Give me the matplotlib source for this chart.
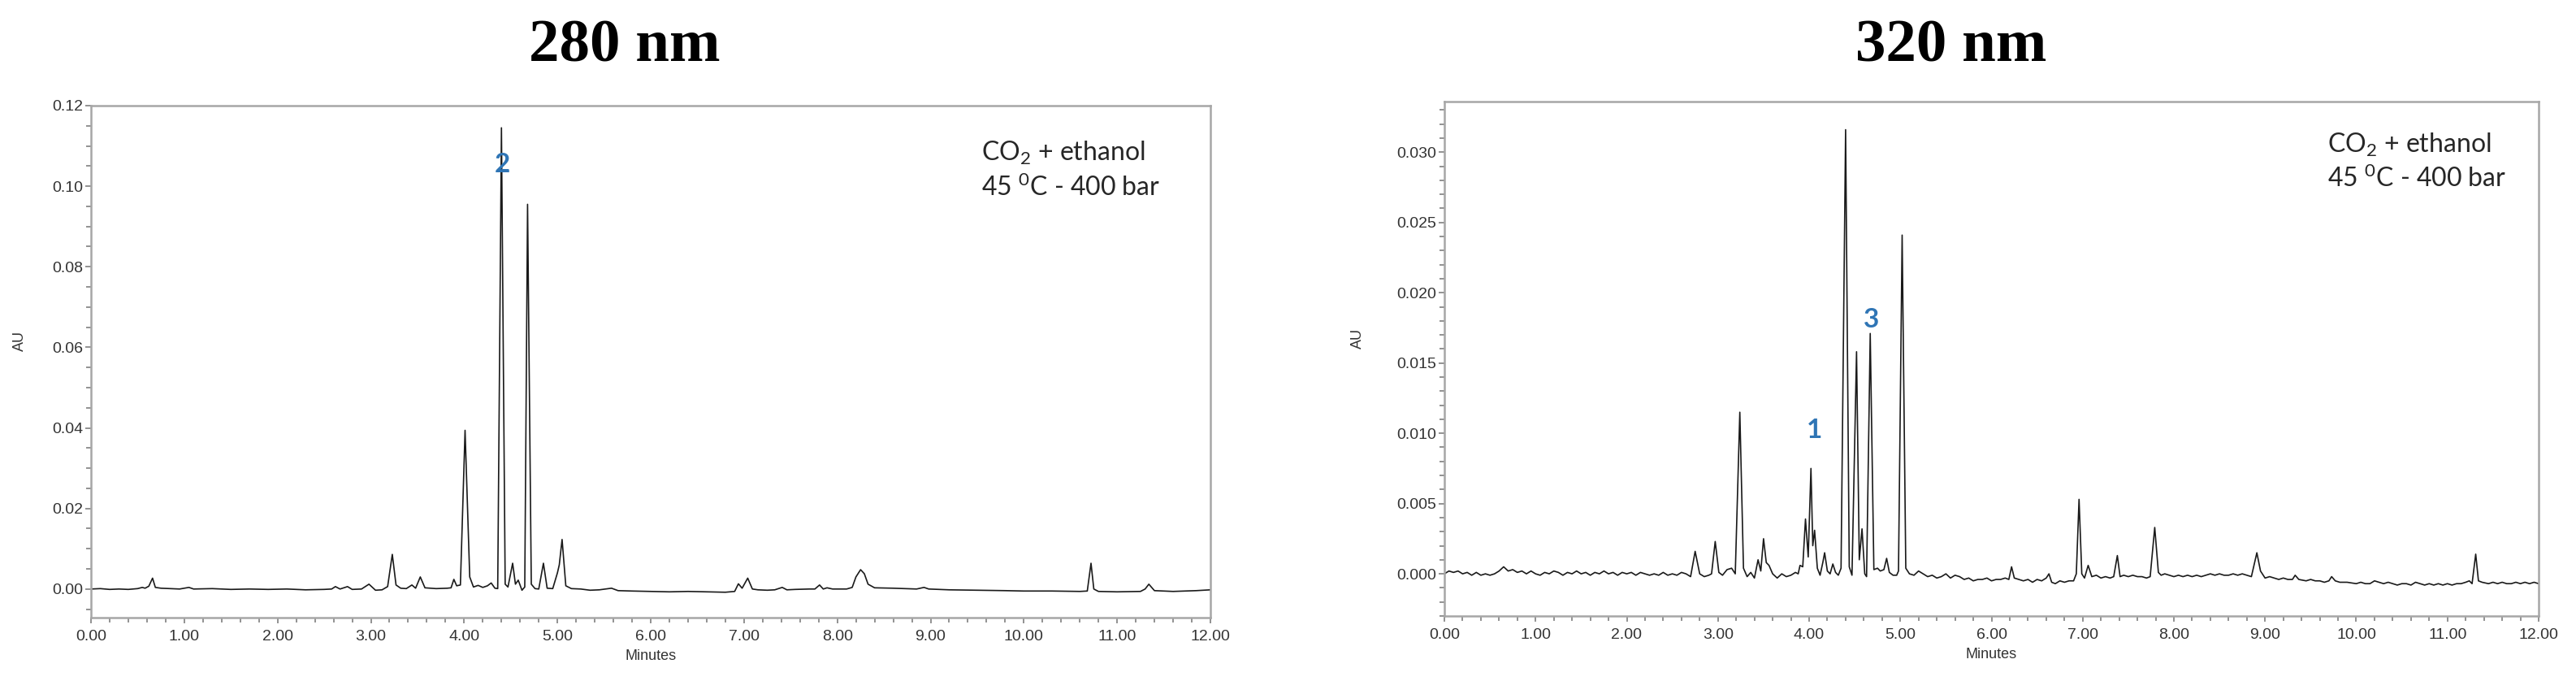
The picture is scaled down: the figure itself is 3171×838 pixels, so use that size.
import matplotlib
matplotlib.use("Agg")
import matplotlib.pyplot as plt
from matplotlib.ticker import MultipleLocator, FormatStrFormatter

# chromatogram (minutes, AU)
t280 = [0.00, 0.10, 0.20, 0.30, 0.40, 0.50, 0.55, 0.58, 0.62, 0.66, 0.69, 0.75, 0.85, 0.95,
        1.05, 1.10, 1.30, 1.50, 1.70, 1.90, 2.10, 2.30, 2.50, 2.58, 2.62, 2.67, 2.75, 2.80,
        2.90, 2.98, 3.05, 3.12, 3.18, 3.23, 3.27, 3.32, 3.38, 3.44, 3.48, 3.53, 3.58, 3.70,
        3.82, 3.86, 3.89, 3.92, 3.96, 4.01, 4.06, 4.10, 4.15, 4.20, 4.25, 4.29, 4.33, 4.36,
        4.40, 4.44, 4.47, 4.52, 4.55, 4.58, 4.62, 4.65, 4.68, 4.72, 4.76, 4.80, 4.85, 4.89,
        4.95, 5.00, 5.02, 5.05, 5.09, 5.15, 5.25, 5.35, 5.45, 5.58, 5.65, 5.80, 6.00, 6.20,
        6.40, 6.60, 6.80, 6.90, 6.94, 6.98, 7.04, 7.09, 7.15, 7.25, 7.33, 7.41, 7.46, 7.55,
        7.70, 7.76, 7.81, 7.85, 7.89, 7.95, 8.10, 8.16, 8.20, 8.25, 8.29, 8.33, 8.40, 8.60,
        8.85, 8.93, 8.98, 9.20, 9.50, 9.80, 10.00, 10.30, 10.60, 10.68, 10.72, 10.75, 10.80,
        11.00, 11.25, 11.30, 11.34, 11.40, 11.60, 11.85, 12.00]
au280 = [0.0000, 0.0001, -0.0001, 0.0000, -0.0001, 0.0001, 0.0004, 0.0002, 0.0007, 0.0027,
         0.0004, 0.0002, 0.0001, 0.0000, 0.0004, 0.0000, 0.0001, -0.0001, 0.0000, -0.0001,
         0.0000, -0.0002, -0.0001, 0.0000, 0.0006, 0.0000, 0.0006, -0.0001, 0.0000, 0.0012,
         -0.0003, -0.0002, 0.0006, 0.0086, 0.0010, 0.0002, 0.0001, 0.0010, 0.0002, 0.0030,
         0.0003, 0.0001, 0.0002, 0.0003, 0.0024, 0.0008, 0.0010, 0.0394, 0.0030, 0.0005,
         0.0009, 0.0004, 0.0008, 0.0015, 0.0002, 0.0001, 0.1145, 0.0012, 0.0005, 0.0064,
         0.0012, 0.0022, -0.0003, 0.0005, 0.0955, 0.0012, 0.0001, 0.0000, 0.0064, 0.0002,
         0.0001, 0.0040, 0.0060, 0.0123, 0.0008, 0.0001, 0.0000, -0.0003, -0.0002, 0.0002,
         -0.0004, -0.0005, -0.0006, -0.0007, -0.0006, -0.0007, -0.0008, -0.0006, 0.0013,
         0.0002, 0.0027, 0.0000, -0.0002, -0.0003, -0.0002, 0.0004, -0.0002, -0.0001, 0.0000,
         0.0000, 0.0010, 0.0000, 0.0003, 0.0000, 0.0000, 0.0004, 0.0030, 0.0048, 0.0038,
         0.0012, 0.0003, 0.0002, 0.0000, 0.0004, 0.0000, -0.0002, -0.0003, -0.0004, -0.0005,
         -0.0005, -0.0006, -0.0005, 0.0064, 0.0000, -0.0006, -0.0007, -0.0006, 0.0000, 0.0012,
         -0.0004, -0.0006, -0.0004, -0.0002]

# chromatogram (minutes, AU)
t320 = [0.00, 0.05, 0.10, 0.15, 0.20, 0.25, 0.30, 0.35, 0.40, 0.45, 0.50, 0.55, 0.60, 0.65,
        0.70, 0.75, 0.80, 0.85, 0.90, 0.95, 1.00, 1.05, 1.10, 1.15, 1.20, 1.25, 1.30, 1.35,
        1.40, 1.45, 1.50, 1.55, 1.60, 1.65, 1.70, 1.75, 1.80, 1.85, 1.90, 1.95, 2.00, 2.05,
        2.10, 2.15, 2.20, 2.25, 2.30, 2.35, 2.40, 2.45, 2.50, 2.55, 2.60, 2.65, 2.70, 2.75,
        2.80, 2.85, 2.90, 2.93, 2.97, 3.01, 3.05, 3.10, 3.15, 3.19, 3.24, 3.28, 3.32, 3.36,
        3.40, 3.44, 3.47, 3.50, 3.53, 3.56, 3.60, 3.65, 3.70, 3.75, 3.80, 3.85, 3.88, 3.90,
        3.93, 3.96, 3.99, 4.02, 4.04, 4.06, 4.09, 4.12, 4.15, 4.17, 4.20, 4.23, 4.26, 4.29,
        4.32, 4.35, 4.40, 4.44, 4.47, 4.52, 4.55, 4.58, 4.61, 4.63, 4.67, 4.71, 4.75, 4.78,
        4.82, 4.85, 4.88, 4.92, 4.96, 4.98, 5.02, 5.06, 5.10, 5.15, 5.20, 5.25, 5.30, 5.35,
        5.40, 5.45, 5.50, 5.55, 5.60, 5.65, 5.70, 5.75, 5.80, 5.85, 5.90, 5.95, 6.00, 6.05,
        6.10, 6.15, 6.19, 6.22, 6.25, 6.30, 6.35, 6.40, 6.45, 6.50, 6.55, 6.60, 6.63, 6.66,
        6.70, 6.75, 6.80, 6.85, 6.90, 6.93, 6.96, 6.99, 7.02, 7.06, 7.10, 7.15, 7.20, 7.25,
        7.30, 7.34, 7.38, 7.41, 7.45, 7.50, 7.55, 7.60, 7.65, 7.70, 7.74, 7.79, 7.83, 7.86,
        7.90, 7.95, 8.00, 8.05, 8.10, 8.15, 8.20, 8.25, 8.30, 8.35, 8.40, 8.45, 8.50, 8.55,
        8.60, 8.65, 8.70, 8.75, 8.80, 8.85, 8.91, 8.95, 9.00, 9.05, 9.10, 9.15, 9.20, 9.25,
        9.30, 9.33, 9.37, 9.45, 9.50, 9.55, 9.60, 9.65, 9.70, 9.73, 9.77, 9.82, 9.90, 10.00,
        10.05, 10.10, 10.15, 10.20, 10.25, 10.30, 10.35, 10.40, 10.45, 10.50, 10.55, 10.60,
        10.65, 10.70, 10.75, 10.80, 10.85, 10.90, 10.95, 11.00, 11.05, 11.10, 11.15, 11.20,
        11.24, 11.27, 11.31, 11.34, 11.38, 11.45, 11.50, 11.55, 11.60, 11.65, 11.70, 11.75,
        11.80, 11.85, 11.90, 11.95, 12.00]
au320 = [0.0000, 0.0002, 0.0001, 0.0002, 0.0000, 0.0001, -0.0001, 0.0001, -0.0001, 0.0000,
         -0.0001, 0.0000, 0.0002, 0.0005, 0.0002, 0.0003, 0.0001, 0.0002, 0.0000, 0.0002,
         0.0000, -0.0001, 0.0001, 0.0000, 0.0002, 0.0001, -0.0001, 0.0001, 0.0000, 0.0002,
         0.0000, 0.0001, -0.0001, 0.0001, 0.0000, 0.0002, 0.0000, 0.0001, -0.0001, 0.0001,
         0.0000, 0.0001, -0.0001, 0.0001, 0.0000, -0.0001, 0.0000, -0.0001, 0.0001, -0.0001,
         0.0000, -0.0001, 0.0001, 0.0000, -0.0002, 0.0016, 0.0000, -0.0002, -0.0001, 0.0000,
         0.0023, 0.0001, -0.0001, 0.0003, 0.0004, 0.0000, 0.0115, 0.0004, -0.0002, 0.0001,
         -0.0003, 0.0010, 0.0002, 0.0025, 0.0008, 0.0006, 0.0000, -0.0003, 0.0000, -0.0002,
         -0.0001, 0.0001, 0.0000, 0.0006, 0.0005, 0.0039, 0.0012, 0.0075, 0.0020, 0.0031,
         0.0004, -0.0001, 0.0008, 0.0015, 0.0002, 0.0000, 0.0007, 0.0001, -0.0001, 0.0004,
         0.0316, 0.0005, -0.0001, 0.0158, 0.0010, 0.0032, 0.0000, -0.0002, 0.0171, 0.0003,
         0.0004, 0.0002, 0.0003, 0.0011, 0.0001, -0.0001, -0.0001, 0.0002, 0.0241, 0.0004,
         0.0000, -0.0001, 0.0002, 0.0000, -0.0002, -0.0001, -0.0003, -0.0002, 0.0000, -0.0003,
         -0.0001, -0.0002, -0.0004, -0.0003, -0.0005, -0.0004, -0.0004, -0.0003, -0.0005,
         -0.0004, -0.0004, -0.0003, -0.0004, 0.0005, -0.0003, -0.0004, -0.0005, -0.0004,
         -0.0006, -0.0004, -0.0005, -0.0003, 0.0000, -0.0006, -0.0007, -0.0005, -0.0006,
         -0.0005, -0.0005, 0.0000, 0.0053, 0.0000, -0.0003, 0.0006, -0.0002, -0.0001, -0.0003,
         -0.0002, -0.0003, -0.0002, 0.0013, -0.0002, -0.0001, -0.0002, -0.0001, -0.0002,
         -0.0002, -0.0003, -0.0002, 0.0033, 0.0001, -0.0001, 0.0000, -0.0001, -0.0002, -0.0001,
         -0.0002, -0.0001, -0.0002, -0.0001, -0.0002, -0.0001, 0.0000, -0.0001, 0.0000, -0.0001,
         -0.0001, 0.0000, -0.0001, 0.0000, -0.0001, -0.0002, 0.0015, 0.0002, -0.0003, -0.0002,
         -0.0003, -0.0004, -0.0003, -0.0004, -0.0004, -0.0001, -0.0004, -0.0005, -0.0004,
         -0.0005, -0.0005, -0.0006, -0.0005, -0.0002, -0.0005, -0.0006, -0.0006, -0.0007,
         -0.0006, -0.0007, -0.0007, -0.0005, -0.0006, -0.0007, -0.0006, -0.0007, -0.0008,
         -0.0007, -0.0007, -0.0008, -0.0006, -0.0007, -0.0008, -0.0007, -0.0008, -0.0007,
         -0.0008, -0.0007, -0.0008, -0.0007, -0.0007, -0.0006, -0.0005, -0.0007, 0.0014,
         -0.0005, -0.0006, -0.0007, -0.0006, -0.0007, -0.0006, -0.0007, -0.0007, -0.0006,
         -0.0007, -0.0006, -0.0007, -0.0006, -0.0007]

# numbered peaks
peaks280 = ["2"]
peaks280_t = [4.41]
peaks280_y = [0.1053]
peaks320 = ["1", "3"]
peaks320_t = [4.06, 4.68]
peaks320_y = [0.0102, 0.0181]

titles = ["280 nm", "320 nm"]
conditions = ["CO$_2$ + ethanol", "45 $^{0}$C - 400 bar"]

plt.rcParams["mathtext.default"] = "regular"

W, H = 3171, 838
fig = plt.figure(figsize=(W / 100, H / 100), dpi=100)

FRAME = "#a6a6a6"
TICKC = "#7f7f7f"
LABC = "#333333"
BLUE = "#2f75b5"
TICKFONT = "Liberation Sans"
TEXTFONT = "Lato"


def make_axes(px_left, px_right, px_top, px_bottom):
    return fig.add_axes([px_left / W, 1 - px_bottom / H,
                         (px_right - px_left) / W, (px_bottom - px_top) / H])


def style_axes(ax, ylim, ymajor, yminor, yfmt, au_x):
    ax.set_xlim(0, 12)
    ax.set_ylim(*ylim)
    ax.xaxis.set_major_locator(MultipleLocator(1))
    ax.xaxis.set_minor_locator(MultipleLocator(0.2))
    ax.yaxis.set_major_locator(MultipleLocator(ymajor))
    ax.yaxis.set_minor_locator(MultipleLocator(yminor))
    ax.xaxis.set_major_formatter(FormatStrFormatter("%.2f"))
    ax.yaxis.set_major_formatter(FormatStrFormatter(yfmt))
    for s in ax.spines.values():
        s.set_color(FRAME)
        s.set_linewidth(1.8)
    ax.tick_params(which="both", direction="out", color=TICKC, width=1.2,
                   labelsize=14, labelcolor=LABC, labelfontfamily=TICKFONT)
    ax.tick_params(which="major", length=5)
    ax.tick_params(which="minor", length=4)
    ax.tick_params(axis="x", pad=6)
    ax.tick_params(axis="y", pad=2)
    ax.set_xlabel("Minutes", fontsize=13, color=LABC, family=TICKFONT, labelpad=5)
    ax.set_ylabel("AU", fontsize=13, color=LABC, family=TICKFONT)
    ax.yaxis.set_label_coords(au_x, 0.54)


def draw_conditions(ax, x, y1, y2):
    ax.text(x, y1, conditions[0], transform=ax.transAxes, fontsize=23,
            family=TEXTFONT, color="#262626", va="center", ha="left")
    ax.text(x, y2, conditions[1], transform=ax.transAxes, fontsize=23,
            family=TEXTFONT, color="#262626", va="center", ha="left")


# 280 nm panel
ax1 = make_axes(112, 1490, 130, 760)
ax1.plot(t280, au280, color="#1a1a1a", lw=1.2)
style_axes(ax1, (-0.0071, 0.12), 0.02, 0.005, "%.2f", -0.057)
for name, t, y in zip(peaks280, peaks280_t, peaks280_y):
    ax1.text(t, y, name, color=BLUE, fontsize=24, fontweight="bold",
             family=TEXTFONT, ha="center", va="center")
draw_conditions(ax1, 0.795, 0.908, 0.841)

# 320 nm panel
ax2 = make_axes(1778, 3125, 125, 758)
ax2.plot(t320, au320, color="#1a1a1a", lw=1.2)
style_axes(ax2, (-0.0030, 0.0336), 0.005, 0.001, "%.3f", -0.073)
for name, t, y in zip(peaks320, peaks320_t, peaks320_y):
    ax2.text(t, y, name, color=BLUE, fontsize=24, fontweight="bold",
             family=TEXTFONT, ha="center", va="center")
draw_conditions(ax2, 0.807, 0.916, 0.850)

fig.text(769 / W, 1 - 57 / H, titles[0], fontsize=54, fontweight="bold",
         family="Liberation Serif", ha="center", va="center")
fig.text(2402 / W, 1 - 57 / H, titles[1], fontsize=54, fontweight="bold",
         family="Liberation Serif", ha="center", va="center")

fig.savefig("out.png", dpi=100)
